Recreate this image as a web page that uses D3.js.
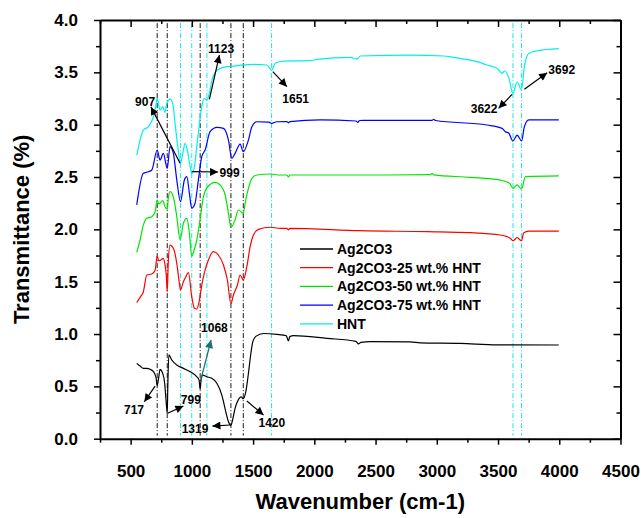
<!DOCTYPE html>
<html><head><meta charset="utf-8">
<script src="https://cdn.jsdelivr.net/npm/d3@7"></script>
<style>
body{margin:0;background:#fff}
svg{display:block}
text{font-family:Arial,"Liberation Sans",sans-serif;font-weight:bold;fill:#000}
</style>
</head><body><svg id="c" width="641" height="518"></svg>
<script>
// ---------- data ----------
const seriesNames = ["Ag2CO3","Ag2CO3-25 wt.% HNT","Ag2CO3-50 wt.% HNT","Ag2CO3-75 wt.% HNT","HNT"];
const seriesColors = ["#000000","#ff0000","#00e600","#0000ff","#00eeee"];

const ag2co3 = [[550,0.72],[577,0.694],[604,0.672],[632,0.672],[659,0.663],[686,0.64],[708,0.58],[717,0.51],[730,0.59],[740,0.663],[760,0.63],[778,0.53],[789,0.37],[799,0.243],[803,0.465],[812,0.80],[836,0.752],[877,0.704],[931,0.672],[986,0.64],[1040,0.592],[1059,0.56],[1068,0.47],[1075,0.56],[1089,0.608],[1122,0.592],[1163,0.577],[1204,0.53],[1245,0.417],[1280,0.243],[1299,0.162],[1319,0.128],[1331,0.17],[1353,0.29],[1381,0.376],[1402,0.40],[1420,0.382],[1443,0.465],[1462,0.625],[1482,0.816],[1498,0.927],[1525,0.98],[1585,1.005],[1694,0.997],[1770,0.985],[1789,0.935],[1800,0.975],[1830,0.985],[2103,0.959],[2340,0.93],[2360,0.905],[2380,0.92],[2457,0.927],[2784,0.925],[2865,0.915],[3192,0.91],[3492,0.897],[3996,0.895]];

const hnt25 = [[550,1.30],[577,1.35],[604,1.404],[632,1.564],[673,1.573],[700,1.61],[717,1.745],[730,1.70],[746,1.707],[767,1.723],[781,1.66],[792,1.55],[799,1.404],[808,1.70],[822,1.85],[849,1.82],[877,1.675],[898,1.485],[907,1.42],[931,1.50],[945,1.532],[972,1.586],[999,1.357],[1021,1.246],[1040,1.239],[1062,1.325],[1081,1.468],[1108,1.611],[1135,1.707],[1176,1.787],[1217,1.755],[1258,1.66],[1290,1.516],[1319,1.29],[1339,1.373],[1372,1.468],[1394,1.564],[1420,1.516],[1449,1.643],[1476,1.834],[1503,1.946],[1544,2.0],[1639,2.02],[1721,2.01],[1775,2.01],[1789,1.994],[1800,2.01],[2375,1.987],[2920,1.978],[3274,1.968],[3519,1.946],[3574,1.93],[3601,1.915],[3622,1.891],[3656,1.92],[3692,1.891],[3710,1.968],[3751,1.984],[3996,1.984]];

const hnt50 = [[550,1.78],[577,1.898],[604,2.04],[632,2.105],[673,2.12],[700,2.168],[717,2.28],[730,2.242],[762,2.274],[781,2.216],[799,2.19],[808,2.30],[822,2.36],[849,2.31],[877,2.12],[904,1.90],[931,2.058],[959,2.105],[980,1.962],[999,1.745],[1018,1.80],[1040,1.898],[1067,2.09],[1094,2.31],[1135,2.414],[1190,2.449],[1231,2.424],[1272,2.328],[1299,2.153],[1319,2.02],[1353,2.09],[1380,2.185],[1420,2.153],[1435,2.249],[1462,2.392],[1490,2.488],[1531,2.519],[1639,2.529],[1721,2.519],[1775,2.519],[1789,2.50],[1800,2.519],[2375,2.519],[2950,2.522],[2961,2.535],[2975,2.52],[3274,2.497],[3519,2.47],[3595,2.44],[3622,2.392],[3656,2.424],[3692,2.383],[3724,2.503],[3996,2.51]];

const hnt75 = [[550,2.233],[604,2.535],[645,2.55],[673,2.567],[717,2.758],[740,2.662],[767,2.726],[799,2.583],[822,2.79],[849,2.726],[877,2.471],[907,2.264],[939,2.471],[959,2.503],[980,2.344],[999,2.201],[1026,2.249],[1053,2.471],[1081,2.694],[1108,2.758],[1149,2.933],[1204,2.975],[1258,2.965],[1299,2.853],[1326,2.679],[1353,2.726],[1394,2.815],[1420,2.742],[1462,2.853],[1490,2.98],[1531,3.028],[1630,3.025],[1651,3.013],[1694,3.028],[1775,3.03],[1789,3.018],[1800,3.03],[2048,3.045],[2340,3.035],[2355,3.022],[2370,3.04],[2961,3.042],[2974,3.05],[2990,3.04],[3410,2.997],[3533,2.965],[3560,2.933],[3587,2.92],[3622,2.844],[3656,2.90],[3692,2.844],[3715,2.98],[3751,3.045],[3996,3.045]];

const hnt = [[550,2.71],[577,2.853],[604,2.949],[645,2.98],[686,3.076],[705,3.172],[717,3.252],[740,3.14],[762,3.172],[781,3.118],[795,3.204],[822,3.245],[844,3.204],[863,3.013],[885,2.79],[907,2.631],[926,2.726],[945,2.822],[963,2.758],[986,2.598],[999,2.535],[1021,2.598],[1040,2.79],[1059,2.98],[1081,3.172],[1100,3.252],[1123,3.236],[1143,3.30],[1163,3.42],[1190,3.50],[1231,3.538],[1339,3.56],[1503,3.576],[1612,3.57],[1651,3.52],[1680,3.586],[1748,3.608],[1966,3.611],[2021,3.624],[2293,3.643],[2348,3.627],[2375,3.656],[2784,3.665],[3056,3.656],[3137,3.643],[3329,3.602],[3410,3.57],[3492,3.538],[3533,3.49],[3554,3.515],[3587,3.452],[3622,3.30],[3656,3.41],[3692,3.331],[3715,3.554],[3751,3.68],[3819,3.706],[3996,3.726]];

const seriesData = [ag2co3, hnt25, hnt50, hnt75, hnt];

const xMajorTicks = [500,1000,1500,2000,2500,3000,3500,4000,4500];
const yMajorTicks = [0,0.5,1,1.5,2,2.5,3,3.5,4];

const blackRefLines = [717,799,1068,1319,1420];
const cyanRefLines = [907,999,1123,1651,3622,3692];

// annotations: label, text position [wn, T], arrow from [wn,T] to [wn,T]
const annotations = [
  {label:"1123", t:[1239,3.685], a:[1143,3.242], b:[1225,3.665], col:"#000"},
  {label:"907",  t:[618,3.178],  a:[904,2.631],  b:[666,3.17],  col:"#000"},
  {label:"999",  t:[1308,2.50],  a:[999,2.551],  b:[1214,2.548], col:"#000"},
  {label:"1651", t:[1848,3.207], a:[1661,3.506], b:[1776,3.363], col:"#000"},
  {label:"3622", t:[3386,3.111], a:[3615,3.29],  b:[3505,3.156], col:"#000"},
  {label:"3692", t:[4020,3.484], a:[3715,3.338], b:[3901,3.496], col:"#000"},
  {label:"1068", t:[1184,1.019], a:[1073,0.561], b:[1157,0.943], col:"#1b7070"},
  {label:"717",  t:[528,0.236],  a:[700,0.503],  b:[612,0.353], col:"#000"},
  {label:"799",  t:[992,0.331],  a:[803,0.243],  b:[931,0.312], col:"#000"},
  {label:"1319", t:[1026,0.054], a:[1312,0.131], b:[1168,0.121], col:"#000"},
  {label:"1420", t:[1653,0.112], a:[1449,0.36],  b:[1585,0.226], col:"#000"}
];

// ---------- drawing ----------
const svg = d3.select("#c");
const L = 100, R = 620.5, T = 20, B = 438.7;
const x = d3.scaleLinear().domain([250,4500]).range([L,R]);
const y = d3.scaleLinear().domain([0,4]).range([B,T]);

const defs = svg.append("defs");
["#000","#1b7070"].forEach((c,i)=>{
  defs.append("marker").attr("id","ah"+i).attr("viewBox","0 0 10 10")
    .attr("refX",10).attr("refY",5).attr("markerWidth",11).attr("markerHeight",8)
    .attr("markerUnits","userSpaceOnUse").attr("orient","auto")
    .append("path").attr("d","M0,0 L10,5 L0,10 Z").attr("fill",c);
});

const refG = svg.append("g");
blackRefLines.forEach(w=>{
  refG.append("line").attr("x1",x(w)).attr("x2",x(w)).attr("y1",y(3.97)).attr("y2",y(0.03))
    .attr("stroke","#000").attr("stroke-width",0.9).attr("stroke-dasharray","5,2,1,2");
});
cyanRefLines.forEach(w=>{
  refG.append("line").attr("x1",x(w)).attr("x2",x(w)).attr("y1",y(3.97)).attr("y2",y(0.03))
    .attr("stroke","#00e5e5").attr("stroke-width",0.9).attr("stroke-dasharray","5,2,1,2");
});

const line = d3.line().x(d=>x(d[0])).y(d=>y(d[1])).curve(d3.curveMonotoneX);
seriesData.forEach((s,i)=>{
  svg.append("path").datum(s).attr("d",line).attr("fill","none")
    .attr("stroke",seriesColors[i]).attr("stroke-width",1.2).attr("stroke-linejoin","round");
});

const annG = svg.append("g");
annotations.forEach(a=>{
  const mi = a.col==="#000"?0:1;
  annG.append("line").attr("x1",x(a.a[0])).attr("y1",y(a.a[1])).attr("x2",x(a.b[0])).attr("y2",y(a.b[1]))
    .attr("stroke",a.col).attr("stroke-width",1.2).attr("marker-end","url(#ah"+mi+")");
  annG.append("text").attr("x",x(a.t[0])).attr("y",y(a.t[1])).attr("text-anchor","middle")
    .attr("font-size","12px").text(a.label);
});

const xMinor = d3.range(250,4501,250).filter(v=>v%500!==0);
const yMinor = d3.range(0.25,4,0.5);

function styleAxis(g){
  g.select(".domain").attr("stroke","#000").attr("stroke-width",2);
  g.selectAll(".tick line").attr("stroke","#000").attr("stroke-width",1.5);
  g.selectAll(".tick text").attr("font-size","17px").attr("font-family",'Arial,"Liberation Sans",sans-serif').attr("font-weight","bold").attr("fill","#000");
}
const gb = svg.append("g").attr("transform",`translate(0,${B})`)
  .call(d3.axisBottom(x).tickValues(xMajorTicks).tickSize(6).tickSizeOuter(0).tickPadding(20).tickFormat(d3.format("d")));
styleAxis(gb);
const gbm = svg.append("g").attr("transform",`translate(0,${B})`)
  .call(d3.axisBottom(x).tickValues(xMinor).tickSize(4).tickFormat(""));
gbm.select(".domain").remove(); styleAxis(gbm);
const gt = svg.append("g").attr("transform",`translate(0,${T})`)
  .call(d3.axisBottom(x).tickValues(xMajorTicks).tickSize(7).tickSizeOuter(0).tickFormat(""));
styleAxis(gt);
const gtm = svg.append("g").attr("transform",`translate(0,${T})`)
  .call(d3.axisBottom(x).tickValues(xMinor).tickSize(4).tickFormat(""));
gtm.select(".domain").remove(); styleAxis(gtm);
const gl = svg.append("g").attr("transform",`translate(${L},0)`)
  .call(d3.axisLeft(y).tickValues(yMajorTicks).tickSize(6).tickSizeOuter(0).tickPadding(16).tickFormat(d3.format(".1f")));
styleAxis(gl);
const glm = svg.append("g").attr("transform",`translate(${L},0)`)
  .call(d3.axisLeft(y).tickValues(yMinor).tickSize(4).tickFormat(""));
glm.select(".domain").remove(); styleAxis(glm);
const gr = svg.append("g").attr("transform",`translate(${R},0)`)
  .call(d3.axisLeft(y).tickValues(yMajorTicks).tickSize(7).tickSizeOuter(0).tickFormat(""));
styleAxis(gr);
const grm = svg.append("g").attr("transform",`translate(${R},0)`)
  .call(d3.axisLeft(y).tickValues(yMinor).tickSize(4).tickFormat(""));
grm.select(".domain").remove(); styleAxis(grm);

svg.append("text").attr("x",(L+R)/2).attr("y",509).attr("text-anchor","middle")
  .attr("font-size","22px").text("Wavenumber (cm-1)");
svg.append("text").attr("transform",`translate(29,${(T+B)/2}) rotate(-90)`).attr("text-anchor","middle")
  .attr("font-size","22px").text("Transmittance (%)");

const lg = svg.append("g");
seriesNames.forEach((n,i)=>{
  const yy = 249 + i*18.7;
  lg.append("line").attr("x1",300).attr("x2",333).attr("y1",yy).attr("y2",yy)
    .attr("stroke",seriesColors[i]).attr("stroke-width",1.3);
  lg.append("text").attr("x",337).attr("y",yy+5).attr("font-size","14px").text(n);
});
</script></body></html>
